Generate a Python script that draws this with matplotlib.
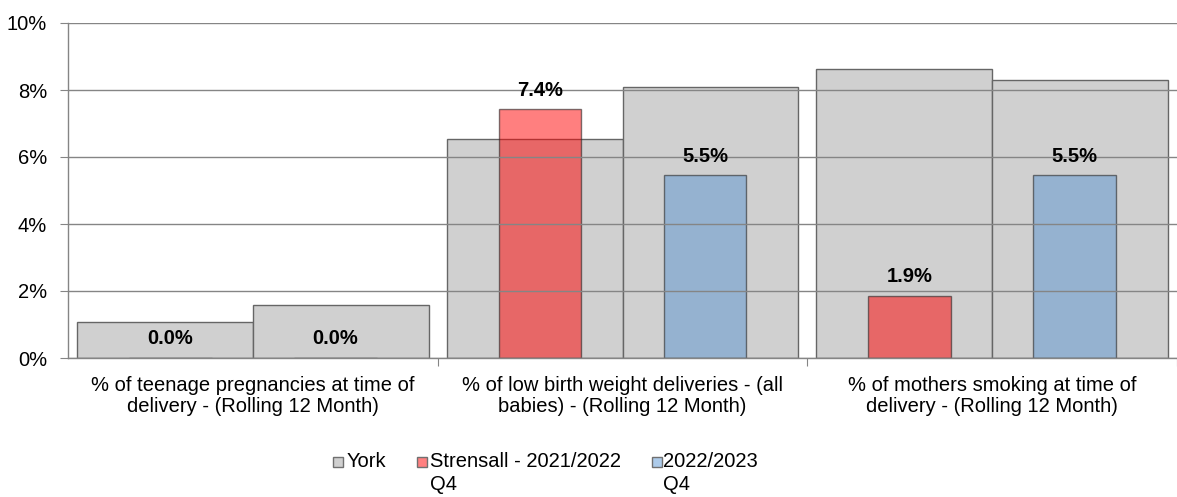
import matplotlib
matplotlib.use("Agg")
import matplotlib.pyplot as plt
from matplotlib.patches import Rectangle
import numpy as np

plt.rcParams['font.family'] = ['Liberation Sans', 'DejaVu Sans']

categories = ["% of teenage pregnancies at time of\ndelivery - (Rolling 12 Month)",
              "% of low birth weight deliveries - (all\nbabies) - (Rolling 12 Month)",
              "% of mothers smoking at time of\ndelivery - (Rolling 12 Month)"]
york_2122 = [1.07, 6.53, 8.62]
york_2223 = [1.58, 8.10, 8.30]
strensall_2122 = [0.0, 7.42, 1.86]
strensall_2223 = [0.0, 5.46, 5.46]
legend_labels = ["York", "Strensall - 2021/2022\nQ4", "2022/2023\nQ4"]
yticks = [0, 2, 4, 6, 8, 10]

FS = 14.5
W, H = 1177, 497
fig = plt.figure(figsize=(W / 100, H / 100), dpi=100)
ax = fig.add_axes([68 / W, 1 - 358 / H, 1 - 68 / W, (358 - 23) / H])

x = np.arange(len(categories))
yw = 0.476
cw = 0.224
coff = 0.223

york_face = '#D0D0D0'
york_edge = '#666666'
red_face = (1.0, 0.0, 0.0, 0.5)
blue_face = (92 / 255, 150 / 255, 208 / 255, 0.5)
col_edge = (0.15, 0.15, 0.15, 0.6)

ax.bar(x - yw / 2, york_2122, width=yw, color=york_face, edgecolor=york_edge, linewidth=1.0, zorder=1)
ax.bar(x + yw / 2, york_2223, width=yw, color=york_face, edgecolor=york_edge, linewidth=1.0, zorder=1)
ax.bar(x - coff, strensall_2122, width=cw, color=red_face, edgecolor=col_edge, linewidth=1.0, zorder=1.2)
ax.bar(x + coff, strensall_2223, width=cw, color=blue_face, edgecolor=col_edge, linewidth=1.0, zorder=1.2)

for xs, vals in ((x - coff, strensall_2122), (x + coff, strensall_2223)):
    for xi, v in zip(xs, vals):
        ax.annotate(f"{v:.1f}%", xy=(xi, v), xytext=(0, 13.7), textcoords='offset points',
                    ha='center', va='center', fontsize=FS, fontweight='bold', color='black', zorder=5)

ax.set_ylim(0, 10)
ax.set_xlim(-0.5, 2.495)
ax.set_yticks(yticks)
ax.set_yticklabels([f"{t}%" for t in yticks], fontsize=FS)
ax.grid(axis='y', color='#858585', linewidth=1.0)
ax.set_axisbelow(False)

ax.set_xticks([0.5, 1.5, 2.5])
ax.set_xticklabels([])
ax.set_xticks(x, minor=True)
ax.set_xticklabels(categories, minor=True, fontsize=FS, linespacing=1.15)
ax.tick_params(axis='x', which='minor', length=0, pad=13)
ax.tick_params(axis='x', which='major', length=6, color='#858585', direction='out')
ax.tick_params(axis='y', length=6, color='#858585', pad=9)

for s in ('top', 'right'):
    ax.spines[s].set_visible(False)
for s in ('left', 'bottom'):
    ax.spines[s].set_color('#858585')
    ax.spines[s].set_linewidth(1.0)

# legend (manual, handle aligned with first line)
leg_faces = ['#D0D0D0', '#FF8080', '#ADCBEA']
leg_square_x = [333, 417, 652]
leg_text_x = [347, 430, 663]
for fc, sx, tx, lab in zip(leg_faces, leg_square_x, leg_text_x, legend_labels):
    fig.patches.append(Rectangle((sx / W, 1 - 467 / H), 10 / W, 10 / H, transform=fig.transFigure,
                                 facecolor=fc, edgecolor='#707070', linewidth=1.0))
    fig.text(tx / W, 1 - 452 / H, lab, ha='left', va='top', fontsize=FS, linespacing=1.3)

fig.savefig('out.png', dpi=100)
